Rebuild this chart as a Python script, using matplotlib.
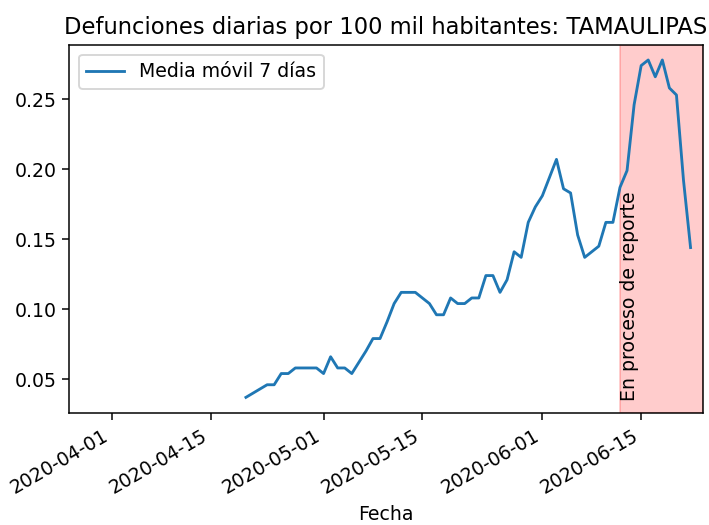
import matplotlib
matplotlib.use("Agg")
import matplotlib.pyplot as plt
import matplotlib.dates as mdates
import pandas as pd

# media movil 7 dias, defunciones por 100 mil hab. (Tamaulipas)
fechas = pd.date_range("2020-04-20", "2020-06-22", freq="D")
media_movil = [
    0.037, 0.040, 0.043, 0.046, 0.046, 0.054, 0.054, 0.058, 0.058, 0.058,
    0.058, 0.054, 0.066, 0.058, 0.058, 0.054, 0.062, 0.070, 0.079, 0.079,
    0.091, 0.104, 0.112, 0.112, 0.112, 0.108, 0.104, 0.096, 0.096, 0.108,
    0.104, 0.104, 0.108, 0.108, 0.124, 0.124, 0.112, 0.121, 0.141, 0.137,
    0.162, 0.173, 0.181, 0.194, 0.207, 0.186, 0.183, 0.153, 0.137, 0.141,
    0.145, 0.162, 0.162, 0.187, 0.199, 0.246, 0.274, 0.278, 0.266, 0.278,
    0.258, 0.253, 0.192, 0.144,
]
inicio_reporte = pd.Timestamp("2020-06-12")
x_min = pd.Timestamp("2020-03-26")
x_max = pd.Timestamp("2020-06-23 17:00")

dpi = 136
fig = plt.figure(figsize=(709 / dpi, 525 / dpi), dpi=dpi)
ax = fig.add_axes([0.098, 0.213, 0.893, 0.701])

ax.plot(fechas, media_movil, label="Media móvil 7 días")
ax.axvspan(inicio_reporte, x_max, color="red", alpha=0.2)
ax.text(inicio_reporte, min(media_movil), "En proceso de reporte", rotation=90)

ax.set_xlim(x_min, x_max)
ax.set_ylim(0.0257, 0.2886)
ax.xaxis.set_major_locator(mdates.DayLocator(bymonthday=[1, 15]))
ax.xaxis.set_major_formatter(mdates.DateFormatter("%Y-%m-%d"))
plt.setp(ax.get_xticklabels(), rotation=30, ha="right")

ax.set_title("Defunciones diarias por 100 mil habitantes: TAMAULIPAS")
ax.set_xlabel("Fecha")
ax.legend(loc="upper left")

fig.savefig("out.png", dpi=dpi)
